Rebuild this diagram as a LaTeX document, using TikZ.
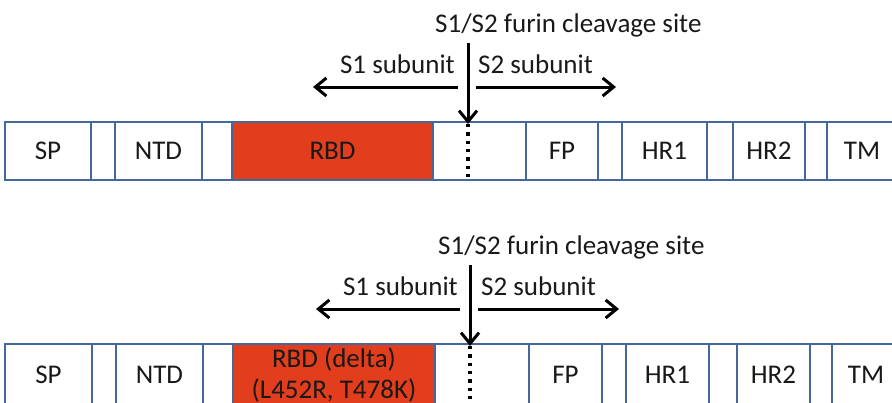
\documentclass[tikz,border=0pt]{standalone}
\usepackage{fontspec}
\setmainfont{Carlito}
\usetikzlibrary{arrows.meta}
\definecolor{boxline}{RGB}{68,104,155}
\definecolor{rbdred}{RGB}{226,61,28}
\newcommand{\segm}[7]{%
  \pgfmathsetmacro\segcx{(#2+#3)/2}\pgfmathsetmacro\segw{#3-#2}%
  \pgfmathsetmacro\segcy{(#4+#5)/2}\pgfmathsetmacro\segh{#5-#4}%
  \node[box,#7,minimum width=\segw pt,minimum height=\segh pt] (#1) at (\segcx,\segcy) {#6};}
\tikzset{
  box/.style={draw=boxline, line width=2.2pt, fill=white, inner sep=0pt, align=center,
    font=\fontsize{27}{31}\selectfont, text=black!90},
  red/.style={fill=rbdred},
  lbl/.style={inner sep=0pt, font=\fontsize{27}{31}\selectfont, text=black!90},
  arr/.style={line width=3pt, -{Straight Barb[length=11pt,width=18pt,line width=3pt]}},
  cut/.style={line width=3.3pt, dash pattern=on 3.3pt off 5pt}
}
\begin{document}
\begin{tikzpicture}[x=1pt,y=-1pt]
\useasboundingbox (0,0) rectangle (892,402);
\clip (0,0) rectangle (892,402);
% ---------- top row ----------
\segm{sp1}{5}{91}{122}{180}{SP}{}
\segm{ga1}{91}{115}{122}{180}{}{}
\segm{ntd1}{115}{202}{122}{180}{NTD}{}
\segm{gb1}{202}{232}{122}{180}{}{}
\segm{rbd1}{232}{433}{122}{180}{RBD}{red}
\segm{w1}{433}{526}{122}{180}{}{}
\segm{fp1}{526}{598}{122}{180}{FP}{}
\segm{gc1}{598}{622}{122}{180}{}{}
\segm{hra1}{622}{707}{122}{180}{HR1}{}
\segm{gd1}{707}{733}{122}{180}{}{}
\segm{hrb1}{733}{805}{122}{180}{HR2}{}
\segm{ge1}{805}{827}{122}{180}{}{}
\segm{tm1}{827}{905}{122}{180}{\hspace*{-8pt}TM}{}
\coordinate (ct1) at (468,124);
\coordinate (cb1) at (468,179);
\draw[cut] (ct1) -- (cb1);
\node[lbl, anchor=base west] (title1) at (435,32) {S1/S2 furin cleavage site};
\coordinate (vs1) at (468,43);
\draw[arr] (vs1) -- (ct1);
\coordinate (la1) at (458,87);
\coordinate (lb1) at (313,87);
\coordinate (ra1) at (476,87);
\coordinate (rb1) at (616,87);
\draw[arr] (la1) -- (lb1);
\draw[arr] (ra1) -- (rb1);
\node[lbl, anchor=base east] (s1a) at (455,73) {S1 subunit};
\node[lbl, anchor=base west] (s2a) at (478,73) {S2 subunit};
% ---------- bottom row ----------
\segm{sp2}{5}{92}{344}{406}{SP}{}
\segm{ga2}{92}{116}{344}{406}{}{}
\segm{ntd2}{116}{203}{344}{406}{NTD}{}
\segm{gb2}{203}{233}{344}{406}{}{}
\segm{rbd2}{233}{435}{344}{406}{RBD (delta)\\(L452R, T478K)}{red}
\segm{w2}{435}{529}{344}{406}{}{}
\segm{fp2}{529}{602}{344}{406}{FP}{}
\segm{gc2}{602}{626}{344}{406}{}{}
\segm{hra2}{626}{709}{344}{406}{HR1}{}
\segm{gd2}{709}{737}{344}{406}{}{}
\segm{hrb2}{737}{810}{344}{406}{HR2}{}
\segm{ge2}{810}{832}{344}{406}{}{}
\segm{tm2}{832}{912}{344}{406}{\hspace*{-12pt}TM}{}
\coordinate (ct2) at (470,346);
\coordinate (cb2) at (470,406);
\draw[cut] (ct2) -- (cb2);
\node[lbl, anchor=base west] (title2) at (438,254) {S1/S2 furin cleavage site};
\coordinate (vs2) at (470,265);
\draw[arr] (vs2) -- (ct2);
\coordinate (la2) at (460,309);
\coordinate (lb2) at (316,309);
\coordinate (ra2) at (478,309);
\coordinate (rb2) at (619,309);
\draw[arr] (la2) -- (lb2);
\draw[arr] (ra2) -- (rb2);
\node[lbl, anchor=base east] (s1b) at (458,295) {S1 subunit};
\node[lbl, anchor=base west] (s2b) at (481,295) {S2 subunit};
\end{tikzpicture}
\end{document}
